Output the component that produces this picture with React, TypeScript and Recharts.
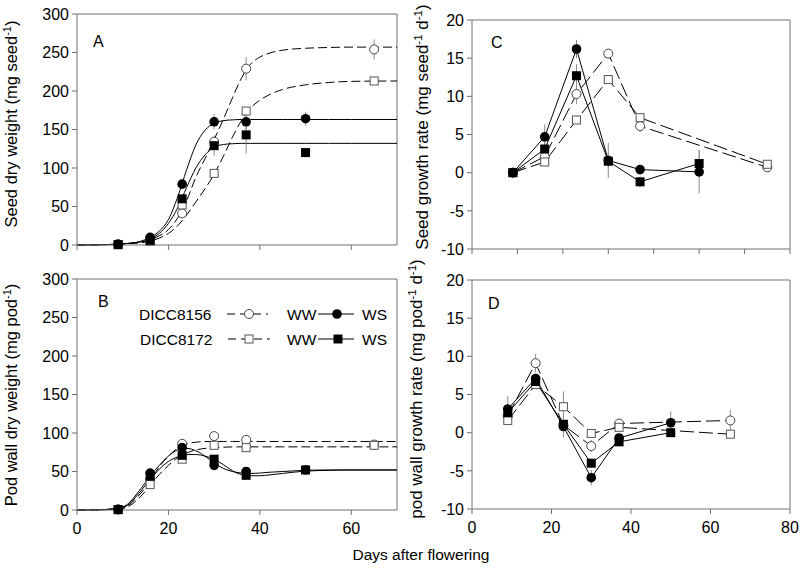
import React from 'react';
import { ComposedChart, Line, XAxis, YAxis, ErrorBar, ReferenceLine } from 'recharts';

const FONT = '"Liberation Sans", Arial, sans-serif';
const AXIS = '#707070';
const ERR = '#8c8c8c';

// sampling days (days after flowering)
const days = [9, 16, 23, 30, 37, 50, 65];

// A - seed dry weight (mg seed-1)
const seedWW56 = [1, 8, 41, 134, 229, null, 254];
const seedWW56Err = [0, 1, 3, 5, 15, null, 13];
const seedWW72 = [0.5, 5, 52, 93, 174, null, 213];
const seedWW72Err = [0, 1, 2, 3, 5, null, 3];
const seedWS56 = [1, 10, 79, 160, 160, 164, null];
const seedWS56Err = [0, 2, 3, 10, 10, 9, null];
const seedWS72 = [0.5, 6, 60, 129, 143, 120, null];
const seedWS72Err = [0, 1, 3, 13, 24, 3, null];

const fitDays = [0, 5, 10, 14, 16, 18, 20, 22, 24, 26, 28, 30, 32, 34, 36, 38, 40, 42, 45, 50, 55, 60, 70];
const seedFitWW56 = [0, 0.3, 1.5, 4, 7, 12, 20, 35, 58, 88, 112, 137, 163, 191, 217, 235, 244, 249, 253, 255.5, 256.5, 257, 257];
const seedFitWW72 = [0, 0.3, 1.5, 3, 5, 9, 15, 25, 39, 56, 73, 92, 115, 140, 162, 178, 188, 195, 202, 208, 211, 212.5, 213];
const seedFitWS56 = [0, 0.3, 1.5, 5, 10, 18, 33, 62, 98, 130, 149, 158, 161.5, 162.5, 163, 163, 163, 163, 163, 163, 163, 163, 163];
const seedFitWS72 = [0, 0.3, 1.5, 4, 8, 15, 28, 48, 75, 100, 117, 127, 130.5, 131.5, 132, 132, 132, 132, 132, 132, 132, 132, 132];

// B - pod wall dry weight (mg pod-1)
const podWW56 = [1, 40, 86, 96, 91, null, 85];
const podWW56Err = [0, 2, 3, 3, 3, null, 3];
const podWW72 = [0.5, 33, 66, 84, 81, null, 84];
const podWW72Err = [0, 2, 3, 2, 2, null, 3];
const podWS56 = [0.5, 48, 81, 58, 50, 52, null];
const podWS56Err = [0, 3, 3, 5, 2, 2, null];
const podWS72 = [0.5, 44, 71, 66, 45, 52, null];
const podWS72Err = [0, 3, 3, 5, 3, 2, null];
const podFitWW56 = [0, 0.3, 3, 22, 38, 56, 70, 80, 86, 88, 89, 89, 89, 89, 89, 89, 89, 89, 89, 89, 89, 89, 89];
const podFitWW72 = [0, 0.3, 2, 18, 32, 46, 58, 68, 74, 78, 80, 81, 81.5, 82, 82, 82, 82, 82, 82, 82, 82, 82, 82];
const podFitWS56 = [0, 0.3, 4, 28, 44, 58, 70, 78, 80, 77, 70, 61, 54, 50, 48, 47.5, 48, 49, 50, 51.5, 52, 52, 52];
const podFitWS72 = [0, 0.3, 3, 25, 40, 53, 63, 69, 72, 72, 70, 66, 59, 51, 46, 44.5, 44.5, 45.5, 47.5, 50.5, 51.5, 52, 52];

// C - seed growth rate (mg seed-1 d-1)
const rateWW56 = [0, 2.1, 10.3, 15.6, 6.1, null, 0.7];
const rateWW56Err = [0, 0.5, 1.3, 0.4, 0.8, null, 0.2];
const rateWW72 = [0, 1.4, 6.9, 12.2, 7.2, null, 1.1];
const rateWW72Err = [0, 0.3, 0.5, 0.5, 0.5, null, 0.2];
const rateWS56 = [0, 4.7, 16.2, 1.6, 0.4, 0.1, null];
const rateWS56Err = [0, 1.6, 1.2, 2.3, 0.5, 2.8, null];
const rateWS72 = [0, 3.1, 12.7, 1.5, -1.2, 1.2, null];
const rateWS72Err = [0, 1, 1.5, 1, 0.7, 1.8, null];

// D - pod wall growth rate (mg pod-1 d-1)
const podRateWW56 = [2.2, 9.1, 1.0, -1.75, 1.2, null, 1.6];
const podRateWW56Err = [0.6, 1.2, 0.5, 0.8, 0.6, null, 1.4];
const podRateWW72 = [1.6, 6.3, 3.4, -0.1, 0.7, null, -0.2];
const podRateWW72Err = [0.6, 0.5, 2.0, 0.3, 0.3, null, 0.2];
const podRateWS56 = [3.1, 7.1, 0.8, -5.9, -0.7, 1.3, null];
const podRateWS56Err = [1.7, 0.5, 1.4, 1.0, 0.5, 1.5, null];
const podRateWS72 = [2.6, 6.7, 1.1, -4.0, -1.2, 0.0, null];
const podRateWS72Err = [1.0, 0.5, 0.5, 0.4, 0.4, 0.3, null];

const weightTicks = [0, 50, 100, 150, 200, 250, 300];
const rateTicks = [-10, -5, 0, 5, 10, 15, 20];

type Kind = 'fc' | 'oc' | 'fs' | 'os';

const toPts = (ys: (number | null)[], errs: (number | null)[]) =>
  days.flatMap((d, i) => (ys[i] == null ? [] : [{ x: d, y: ys[i] as number, e: (errs[i] ?? 0) as number }]));
const toCurve = (ys: number[]) => fitDays.map((d, i) => ({ x: d, y: ys[i] }));

function Marker({ cx, cy, kind }: { cx?: number; cy?: number; kind: Kind }) {
  if (cx == null || cy == null || isNaN(cx) || isNaN(cy)) return null;
  if (kind === 'fc') return <circle cx={cx} cy={cy} r={4.8} fill="#000" />;
  if (kind === 'oc') return <circle cx={cx} cy={cy} r={4.5} fill="#fff" stroke="#444" strokeWidth={1} />;
  if (kind === 'fs') return <rect x={cx - 4.5} y={cy - 4.5} width={9} height={9} fill="#000" />;
  return <rect x={cx - 4} y={cy - 4} width={8} height={8} fill="#fff" stroke="#555" strokeWidth={1} />;
}

function curve(key: string, ys: number[], dashed: boolean) {
  return (
    <Line key={key} data={toCurve(ys)} dataKey="y" type="monotone" stroke="#000" strokeWidth={1}
      strokeDasharray={dashed ? '9 4' : undefined} dot={false} activeDot={false} isAnimationActive={false} />
  );
}

function points(key: string, ys: (number | null)[], errs: (number | null)[], kind: Kind, stroke: string, dash?: string) {
  return (
    <Line key={key} data={toPts(ys, errs)} dataKey="y" type="linear" stroke={stroke} strokeWidth={1}
      strokeDasharray={dash} activeDot={false} isAnimationActive={false}
      dot={(p: any) => <Marker key={`${key}-${p.index}`} cx={p.cx} cy={p.cy} kind={kind} />}>
      <ErrorBar dataKey="e" width={0} stroke={ERR} strokeWidth={1} direction="y" />
    </Line>
  );
}

interface PanelProps {
  left: number; top: number; right: number; bottom: number;
  xDomain: [number, number]; xTicks: number[]; xLabels: boolean;
  yDomain: [number, number]; yTicks: number[];
  series: React.ReactNode[];
}

function Panel({ left, top, right, bottom, xDomain, xTicks, xLabels, yDomain, yTicks, series }: PanelProps) {
  const yw = 50, xh = 34, m = 10;
  const tickStyle = { fill: '#000', fontSize: 16, fontFamily: FONT };
  return (
    <div style={{ position: 'absolute', left: left - yw, top: top - m }}>
      <ComposedChart width={right - left + yw + m} height={bottom - top + m + xh}
        margin={{ top: m, right: m, bottom: 0, left: 0 }}>
        <XAxis type="number" dataKey="x" domain={xDomain} ticks={xTicks} interval={0} height={xh}
          tickSize={5} tickMargin={8} axisLine={{ stroke: AXIS }} tickLine={{ stroke: AXIS }}
          tick={tickStyle} tickFormatter={(v) => (xLabels ? String(v) : '')} />
        <YAxis type="number" dataKey="y" domain={yDomain} ticks={yTicks} interval={0} width={yw}
          tickSize={5} tickMargin={3} axisLine={{ stroke: AXIS }} tickLine={{ stroke: AXIS }} tick={tickStyle} />
        <ReferenceLine y={yDomain[1]} stroke={AXIS} />
        <ReferenceLine x={xDomain[1]} stroke={AXIS} />
        {series}
      </ComposedChart>
    </div>
  );
}

export default function App() {
  const seriesA = [
    curve('aw56', seedFitWW56, true),
    curve('aw72', seedFitWW72, true),
    curve('as56', seedFitWS56, false),
    curve('as72', seedFitWS72, false),
    points('pw56', seedWW56, seedWW56Err, 'oc', 'none'),
    points('pw72', seedWW72, seedWW72Err, 'os', 'none'),
    points('ps72', seedWS72, seedWS72Err, 'fs', 'none'),
    points('ps56', seedWS56, seedWS56Err, 'fc', 'none'),
  ];
  const seriesB = [
    curve('bw56', podFitWW56, true),
    curve('bw72', podFitWW72, true),
    curve('bs56', podFitWS56, false),
    curve('bs72', podFitWS72, false),
    points('qw56', podWW56, podWW56Err, 'oc', 'none'),
    points('qw72', podWW72, podWW72Err, 'os', 'none'),
    points('qs72', podWS72, podWS72Err, 'fs', 'none'),
    points('qs56', podWS56, podWS56Err, 'fc', 'none'),
  ];
  const seriesC = [
    points('cw56', rateWW56, rateWW56Err, 'oc', '#000', '14 5'),
    points('cw72', rateWW72, rateWW72Err, 'os', '#000', '14 5'),
    points('cs72', rateWS72, rateWS72Err, 'fs', '#000'),
    points('cs56', rateWS56, rateWS56Err, 'fc', '#000'),
  ];
  const seriesD = [
    points('dw56', podRateWW56, podRateWW56Err, 'oc', '#000', '14 5'),
    points('dw72', podRateWW72, podRateWW72Err, 'os', '#000', '14 5'),
    points('ds72', podRateWS72, podRateWS72Err, 'fs', '#000'),
    points('ds56', podRateWS56, podRateWS56Err, 'fc', '#000'),
  ];

  return (
    <div style={{ position: 'absolute', left: 0, top: 0, width: 800, height: 568, background: '#fff', fontFamily: FONT }}>
      <Panel left={77} right={397} top={14} bottom={245} xDomain={[0, 70]} xTicks={[0, 20, 40, 60]} xLabels={false}
        yDomain={[0, 300]} yTicks={weightTicks} series={seriesA} />
      <Panel left={77} right={397} top={279} bottom={510} xDomain={[0, 70]} xTicks={[0, 20, 40, 60]} xLabels
        yDomain={[0, 300]} yTicks={weightTicks} series={seriesB} />
      <Panel left={472} right={790} top={20} bottom={249} xDomain={[0, 70]} xTicks={[0, 10, 20, 30, 40, 50, 60, 70]} xLabels={false}
        yDomain={[-10, 20]} yTicks={rateTicks} series={seriesC} />
      <Panel left={472} right={790} top={280} bottom={509} xDomain={[0, 80]} xTicks={[0, 20, 40, 60, 80]} xLabels
        yDomain={[-10, 20]} yTicks={rateTicks} series={seriesD} />

      <svg width={800} height={568} style={{ position: 'absolute', left: 0, top: 0, pointerEvents: 'none' }}
        fontFamily={FONT} fill="#000">
        {/* axis titles */}
        <text transform="translate(17,124) rotate(-90)" textAnchor="middle" fontSize={16.5}>
          Seed dry weight (mg seed<tspan dy={-6} fontSize={11}>-1</tspan><tspan dy={6}>)</tspan>
        </text>
        <text transform="translate(17,395) rotate(-90)" textAnchor="middle" fontSize={16.5}>
          Pod wall dry weight (mg pod<tspan dy={-6} fontSize={11}>-1</tspan><tspan dy={6}>)</tspan>
        </text>
        <text transform="translate(428,127) rotate(-90)" textAnchor="middle" fontSize={17}>
          Seed growth rate (mg seed<tspan dy={-6} fontSize={11.5}>-1</tspan><tspan dy={6}> d</tspan>
          <tspan dy={-6} fontSize={11.5}>-1</tspan><tspan dy={6}>)</tspan>
        </text>
        <text transform="translate(422,389) rotate(-90)" textAnchor="middle" fontSize={17}>
          pod wall growth rate (mg pod<tspan dy={-6} fontSize={11.5}>-1</tspan><tspan dy={6}> d</tspan>
          <tspan dy={-6} fontSize={11.5}>-1</tspan><tspan dy={6}>)</tspan>
        </text>
        <text x={421} y={560} textAnchor="middle" fontSize={15.5}>Days after flowering</text>

        {/* panel letters */}
        <text x={93} y={47} fontSize={16}>A</text>
        <text x={98} y={307} fontSize={16}>B</text>
        <text x={491} y={48} fontSize={16}>C</text>
        <text x={488} y={309} fontSize={16}>D</text>

        {/* legend */}
        <text x={139} y={319.5} fontSize={15.5}>DICC8156</text>
        <line x1={227} x2={268} y1={314} y2={314} stroke="#000" strokeDasharray="8 5" />
        <circle cx={249} cy={314} r={4.5} fill="#fff" stroke="#444" />
        <text x={287} y={319.5} fontSize={15.5}>WW</text>
        <line x1={318} x2={354} y1={314} y2={314} stroke="#000" />
        <circle cx={337} cy={314} r={4.8} fill="#000" />
        <text x={362} y={319.5} fontSize={15.5}>WS</text>

        <text x={140} y={345} fontSize={15.5}>DICC8172</text>
        <line x1={228} x2={270} y1={339} y2={339} stroke="#000" strokeDasharray="8 5" />
        <rect x={245} y={335} width={8} height={8} fill="#fff" stroke="#555" />
        <text x={287} y={345} fontSize={15.5}>WW</text>
        <line x1={318} x2={354} y1={339} y2={339} stroke="#000" />
        <rect x={333.5} y={334.5} width={9} height={9} fill="#000" />
        <text x={362} y={345} fontSize={15.5}>WS</text>
      </svg>
    </div>
  );
}
